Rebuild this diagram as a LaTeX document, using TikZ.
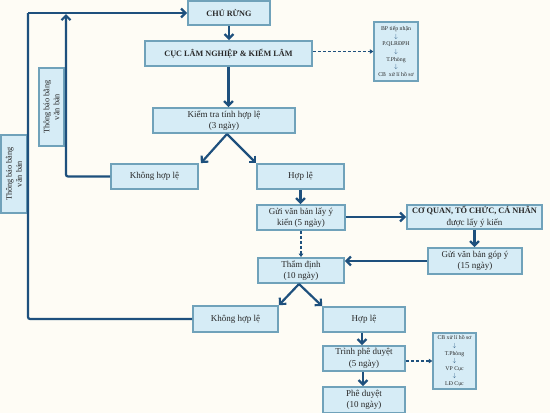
\documentclass[tikz,border=0pt]{standalone}
\usepackage{fontspec}
\setmainfont{Liberation Serif}
\usetikzlibrary{arrows.meta}
\definecolor{bgc}{RGB}{254,252,245}
\definecolor{boxfill}{RGB}{214,236,246}
\definecolor{boxline}{RGB}{112,162,186}
\definecolor{arrowc}{RGB}{30,80,125}
\definecolor{txt}{RGB}{40,40,40}
\begin{document}
\begin{tikzpicture}[x=1pt,y=-1pt,
  box/.style={draw=boxline, fill=boxfill, line width=1.8pt, inner sep=1pt, align=center,
    font=\fontsize{9}{11.5}\selectfont, text=txt},
  bbox/.style={box, font=\fontsize{8.2}{10}\selectfont\bfseries},
  sbox/.style={box, line width=1.4pt, inner sep=0pt, font=\fontsize{5.8}{7.6}\selectfont},
  arr/.style={draw=arrowc, line width=2.2pt, -{Straight Barb[length=4.5pt,width=9pt]}},
  line/.style={draw=arrowc, line width=2.2pt, rounded corners=2pt},
  darr/.style={draw=arrowc, line width=1.1pt, dash pattern=on 3pt off 2pt, -{Triangle[length=3.5pt,width=4.5pt]}}]
\fill[bgc] (0,0) rectangle (550,413);
\useasboundingbox (0,0) rectangle (550,413);

% nodes
\node[bbox, minimum width=82, minimum height=24] (cr) at (229,13) {CHỦ RỪNG};
\node[bbox, minimum width=167, minimum height=25] (cuc) at (228.5,53.5) {CỤC LÂM NGHIỆP \& KIỂM LÂM};
\node[sbox, minimum width=44, minimum height=59] (bp) at (396,51.5)
  {BP tiếp nhận\\{\color{arrowc}$\downarrow$}\\P.QLRĐPH\\{\color{arrowc}$\downarrow$}\\T.Phòng\\{\color{arrowc}$\downarrow$}\\CB\ \ xử lí hồ sơ};
\node[box, minimum width=142, minimum height=25] (kt) at (224,120.5) {Kiểm tra tính hợp lệ\\(3 ngày)};
\node[box, rotate=90, minimum width=78, minimum height=25, font=\fontsize{8.3}{10}\selectfont] (tb1) at (51.5,107) {Thông báo bằng\\văn bản};
\node[box, rotate=90, minimum width=78, minimum height=26, font=\fontsize{8.3}{10}\selectfont] (tb2) at (14,174) {Thông báo bằng\\văn bản};
\node[box, minimum width=87, minimum height=25] (khl1) at (154.5,176.5) {Không hợp lệ};
\node[box, minimum width=87, minimum height=25] (hl1) at (300.5,176.5) {Hợp lệ};
\node[box, minimum width=88, minimum height=25] (gui) at (301,217.5) {Gửi văn bản lấy ý\\kiến (5 ngày)};
\node[box, minimum width=135, minimum height=24, inner sep=0pt] (cq) at (474.5,217)
  {{\fontsize{8.3}{10}\selectfont\bfseries CƠ QUAN, TỔ CHỨC, CÁ NHÂN}\\được lấy ý kiến};
\node[box, minimum width=94, minimum height=26] (gy) at (475,261) {Gửi văn bản góp ý\\(15 ngày)};
\node[box, minimum width=86, minimum height=25] (td) at (301,270.5) {Thẩm định\\(10 ngày)};
\node[box, minimum width=85, minimum height=26] (khl2) at (235.5,319) {Không hợp lệ};
\node[box, minimum width=82, minimum height=25] (hl2) at (364,319.5) {Hợp lệ};
\node[box, minimum width=82, minimum height=25] (tr) at (364,358.5) {Trình phê duyệt\\(5 ngày)};
\node[box, minimum width=82, minimum height=26] (pd) at (364,400) {Phê duyệt\\(10 ngày)};
\node[sbox, minimum width=43, minimum height=56] (cb) at (454.5,361)
  {CB xử lí hồ sơ\\{\color{arrowc}$\downarrow$}\\T.Phòng\\{\color{arrowc}$\downarrow$}\\VP Cục\\{\color{arrowc}$\downarrow$}\\LĐ Cục};

% coordinates for the feedback lines
\coordinate (c1) at (28,13);
\coordinate (c2) at (66,14);

% connectors
\draw[line] (khl2.west) -| (c1);
\draw[arr] (c1) -- (cr.west);
\draw[arr, rounded corners=2pt] (khl1.west) -| (c2);
\draw[arr] (cr.south) -- (cr.south |- cuc.north);
\draw[darr] (bp.west -| cuc.east) -- (bp.west);
\draw[arr] (cuc.south) -- (cuc.south |- kt.north);
\coordinate (k0) at (227,134);
\draw[arr] (k0) -- ([xshift=2pt]khl1.north east);
\draw[arr] (k0) -- (hl1.north west);
\draw[arr] (hl1.south) -- (hl1.south |- gui.north);
\draw[arr] (gui.east |- cq.west) -- (cq.west);
\draw[darr, line width=1.6pt] (gui.south) -- (gui.south |- td.north);
\draw[arr] (cq.south) -- (cq.south |- gy.north);
\draw[arr] (gy.west) -- (gy.west -| td.east);
\coordinate (t0) at (299,284);
\draw[arr] (t0) -- (khl2.north east);
\draw[arr] (t0) -- (hl2.north west);
\draw[arr] ([xshift=-2pt]hl2.south) -- ([xshift=-2pt]hl2.south |- tr.north);
\draw[arr] ([xshift=-1pt]tr.south) -- ([xshift=-1pt]tr.south |- pd.north);
\draw[darr] (tr.east |- cb.west) -- (cb.west);
\end{tikzpicture}
\end{document}
